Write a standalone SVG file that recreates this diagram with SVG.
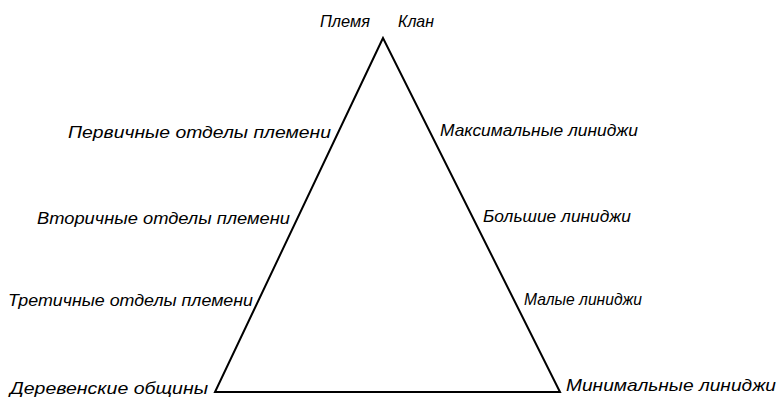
<svg xmlns="http://www.w3.org/2000/svg" width="779" height="402" viewBox="0 0 779 402">
<style>
text{font-family:"Liberation Sans",Arial,sans-serif;font-style:italic;font-size:17px;fill:#000}
.edge{fill:none;stroke:#000;stroke-width:2;stroke-linejoin:miter}
</style>
<rect width="779" height="402" fill="#fff"/>
<g id="connectors">
<polygon class="edge" points="383,38 215,392 560,392"/>
</g>
<g id="apex-left"><text x="320" y="27" textLength="50" lengthAdjust="spacingAndGlyphs">Племя</text></g>
<g id="apex-right"><text x="398" y="27" textLength="36" lengthAdjust="spacingAndGlyphs">Клан</text></g>
<g id="left1"><text x="68" y="138" textLength="263" lengthAdjust="spacingAndGlyphs">Первичные отделы племени</text></g>
<g id="left2"><text x="37" y="224" textLength="253" lengthAdjust="spacingAndGlyphs">Вторичные отделы племени</text></g>
<g id="left3"><text x="8" y="306" textLength="245" lengthAdjust="spacingAndGlyphs">Третичные отделы племени</text></g>
<g id="left4"><text x="10" y="394" textLength="198" lengthAdjust="spacingAndGlyphs">Деревенские общины</text></g>
<g id="right1"><text x="440" y="136" textLength="198" lengthAdjust="spacingAndGlyphs">Максимальные линиджи</text></g>
<g id="right2"><text x="483" y="222" textLength="148" lengthAdjust="spacingAndGlyphs">Большие линиджи</text></g>
<g id="right3"><text x="524" y="305" textLength="118" lengthAdjust="spacingAndGlyphs">Малые линиджи</text></g>
<g id="right4"><text x="566" y="391" textLength="210" lengthAdjust="spacingAndGlyphs">Минимальные линиджи</text></g>
</svg>
